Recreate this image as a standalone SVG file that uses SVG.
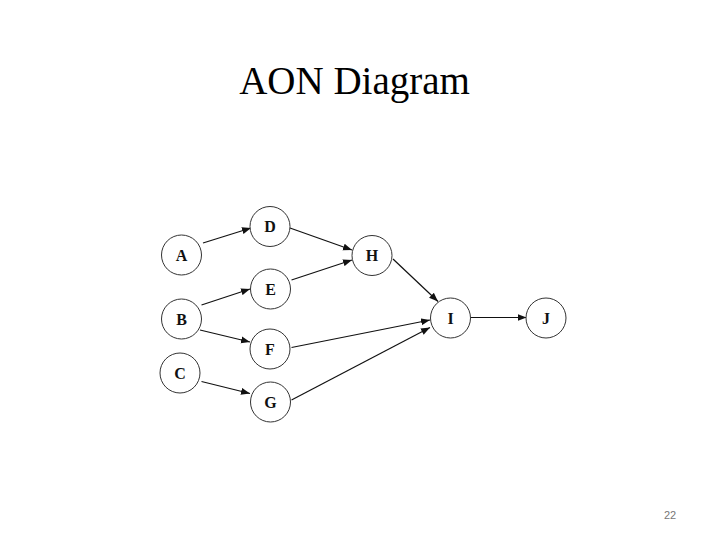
<svg xmlns="http://www.w3.org/2000/svg" width="720" height="540" viewBox="0 0 720 540">
<style>
.node circle{fill:#fff;stroke:#333;stroke-width:1}
.node text{font-family:"Liberation Serif",serif;font-weight:bold;font-size:16px;text-anchor:middle;fill:#111}
.edges line{stroke:#111;stroke-width:1.2;marker-end:url(#ah)}
</style>
<defs>
<marker id="ah" markerUnits="userSpaceOnUse" markerWidth="10" markerHeight="8" refX="9" refY="4" orient="auto">
<path d="M0,0.5 L9,4 L0,7.5 Z" fill="#111"/>
</marker>
</defs>
<rect width="720" height="540" fill="#fff"/>
<text x="354.5" y="94" font-family="Liberation Serif,serif" font-size="39" text-anchor="middle" fill="#000">AON Diagram</text>
<text x="670" y="519" font-family="Liberation Sans,sans-serif" font-size="11" text-anchor="middle" fill="#777">22</text>
<g class="edges">
<line x1="203" y1="243" x2="251" y2="228"/>
<line x1="290" y1="228" x2="352" y2="250"/>
<line x1="291.5" y1="280" x2="352" y2="260"/>
<line x1="201.5" y1="305" x2="250" y2="289"/>
<line x1="200" y1="330" x2="250" y2="342"/>
<line x1="201.5" y1="381.5" x2="250" y2="393.5"/>
<line x1="291.5" y1="347.5" x2="430" y2="320"/>
<line x1="291.5" y1="400" x2="430" y2="327.5"/>
<line x1="393" y1="259" x2="438" y2="301.5"/>
<line x1="471" y1="317.5" x2="526.5" y2="317.5"/>
</g>
<g id="A" class="node"><circle cx="181.5" cy="255" r="20"/><text x="181.5" y="260.5">A</text></g>
<g id="D" class="node"><circle cx="270" cy="226.5" r="20"/><text x="270" y="232">D</text></g>
<g id="H" class="node"><circle cx="372" cy="255.5" r="20"/><text x="372" y="261">H</text></g>
<g id="E" class="node"><circle cx="270.5" cy="289" r="20"/><text x="270.5" y="294.5">E</text></g>
<g id="B" class="node"><circle cx="181.5" cy="319" r="20"/><text x="181.5" y="324.5">B</text></g>
<g id="F" class="node"><circle cx="270" cy="349" r="20"/><text x="270" y="354.5">F</text></g>
<g id="C" class="node"><circle cx="180" cy="373" r="20"/><text x="180" y="378.5">C</text></g>
<g id="G" class="node"><circle cx="270.5" cy="402" r="20"/><text x="270.5" y="407.5">G</text></g>
<g id="I" class="node"><circle cx="450.5" cy="318" r="20"/><text x="450.5" y="323.5">I</text></g>
<g id="J" class="node"><circle cx="546" cy="318" r="20"/><text x="546" y="323.5">J</text></g>
</svg>
